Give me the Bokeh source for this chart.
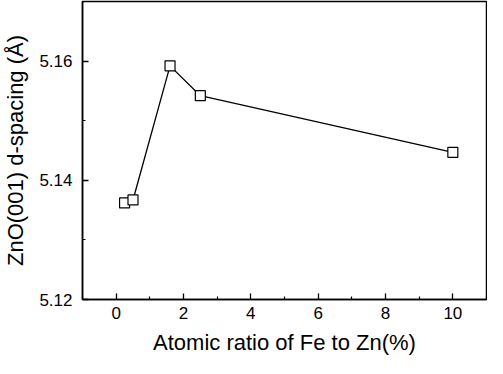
from bokeh.plotting import figure
from bokeh.models import Range1d, FixedTicker, ColumnDataSource
from bokeh.embed import file_html
from bokeh.resources import INLINE

fe_ratio = [0.25, 0.5, 1.6, 2.5, 10.0]
d_spacing = [5.1362, 5.1367, 5.1592, 5.1542, 5.1447]
x_ticks = [0, 2, 4, 6, 8, 10]
x_minor = [-1, 1, 3, 5, 7, 9, 11]
y_ticks = [5.12, 5.14, 5.16]
y_minor = [5.13, 5.15, 5.17]
x_title = "Atomic ratio of Fe to Zn(%)"
y_title = "ZnO(001) d-spacing (\u00c5)"

src = ColumnDataSource(dict(x=fe_ratio, y=d_spacing))

p = figure(width=487, height=358, output_backend="svg", toolbar_location=None,
           x_range=Range1d(-1, 11), y_range=Range1d(5.12, 5.17),
           min_border_left=78, min_border_right=1, min_border_top=1, min_border_bottom=59)
p.background_fill_color = "white"
p.border_fill_color = "white"
p.outline_line_color = "black"
p.outline_line_width = 1.5
p.grid.visible = False

p.line("x", "y", source=src, line_color="black", line_width=1.3)
p.scatter("x", "y", source=src, marker="square", size=10, fill_color="white",
          line_color="black", line_width=1.2)

font = "Liberation Sans"
p.xaxis.ticker = FixedTicker(ticks=x_ticks, minor_ticks=x_minor)
p.yaxis.ticker = FixedTicker(ticks=y_ticks, minor_ticks=y_minor)
p.yaxis.formatter.use_scientific = False
for ax in (p.xaxis[0], p.yaxis[0]):
    ax.axis_line_color = "black"
    ax.axis_line_width = 1.5
    ax.major_tick_in = 6
    ax.major_tick_out = 0
    ax.minor_tick_in = 3
    ax.minor_tick_out = 0
    ax.major_tick_line_width = 1.3
    ax.minor_tick_line_width = 1.2
    ax.major_label_text_font = font
    ax.major_label_text_font_size = "17px"
    ax.major_label_text_color = "black"
    ax.axis_label_text_font = font
    ax.axis_label_text_font_style = "normal"
    ax.axis_label_text_color = "black"
    ax.axis_label_text_font_size = "22px"

p.xaxis.major_label_standoff = 7
p.yaxis.major_label_standoff = 10
p.xaxis.axis_label = x_title
p.yaxis.axis_label = y_title
p.xaxis.axis_label_standoff = 8
p.yaxis.axis_label_standoff = 8

open("out.html", "w").write(file_html(p, INLINE))
